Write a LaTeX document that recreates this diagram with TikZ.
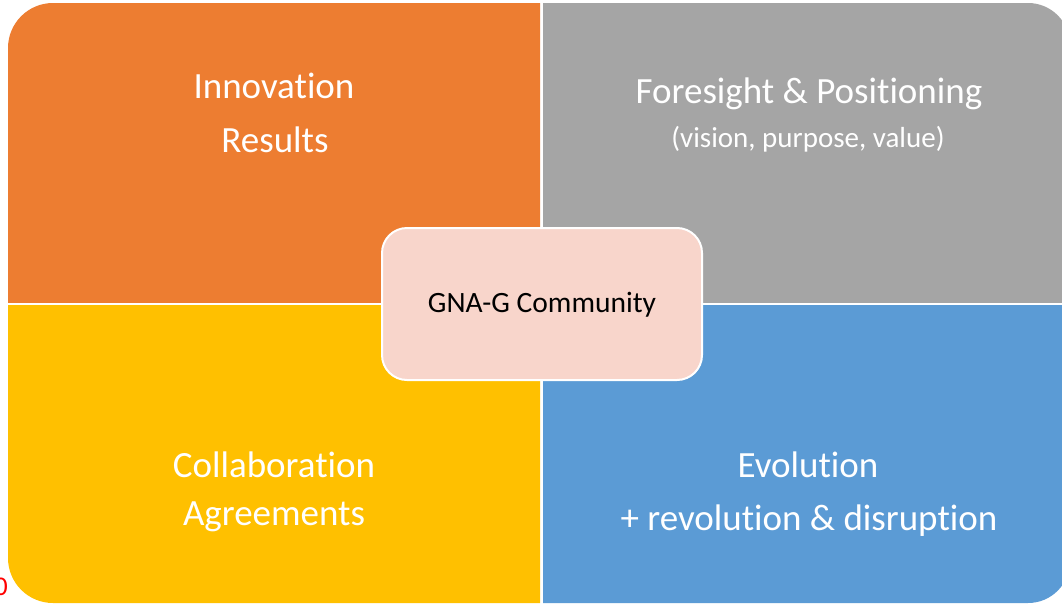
\documentclass[tikz,border=0pt]{standalone}
\usepackage{fontspec}
\setmainfont[Ligatures=NoCommon]{Carlito}
\definecolor{qorange}{HTML}{ED7D31}
\definecolor{qgray}{HTML}{A5A5A5}
\definecolor{qyellow}{HTML}{FFC000}
\definecolor{qblue}{HTML}{5B9BD5}
\definecolor{qpink}{HTML}{F8D5CB}
\begin{document}
\begin{tikzpicture}[x=1pt,y=-1pt,
  head/.style={text=white,font=\fontsize{37}{40}\selectfont,anchor=base,inner sep=0pt},
  sub/.style={text=white,font=\fontsize{29}{32}\selectfont,anchor=base,inner sep=0pt}]
\useasboundingbox (0,0) rectangle (1062,605);
\clip (0,0) rectangle (1062,605);
\fill[white] (0,0) rectangle (1062,605);
% quadrants
\begin{scope}
  \clip (8,3) rectangle (540,302.5);
  \fill[qorange,rounded corners=45pt] (8,3) rectangle (700,420);
\end{scope}
\begin{scope}
  \clip (543,3) rectangle (1070,302.5);
  \fill[qgray,rounded corners=42pt] (300,3) rectangle (1070,420);
\end{scope}
\begin{scope}
  \clip (8,305) rectangle (540,603);
  \fill[qyellow,rounded corners=45pt] (8,150) rectangle (700,603);
\end{scope}
\begin{scope}
  \clip (543,305.5) rectangle (1070,603);
  \fill[qblue,rounded corners=42pt] (300,150) rectangle (1070,603);
\end{scope}
% texts
\node[head] (inn) at (274,98) {Innovation};
\node[head] (res) at (275,152) {Results};
\node[head] (fore) at (809,103) {Foresight \& Positioning};
\node[sub] (vis) at (808,147) {(vision, purpose, value)};
\node[head] (col) at (274,477) {Collaboration};
\node[head] (agr) at (274,525) {Agreements};
\node[head] (evo) at (808,477) {Evolution};
\node[head] (rev) at (809,530) {+ revolution \& disruption};
% center
\draw[white,line width=2pt,fill=qpink,rounded corners=25pt] (382,228) rectangle (702,380);
\node[anchor=base,inner sep=0pt,font=\fontsize{29.5}{32}\selectfont] (gna) at (542,312) {GNA-G Community};
% stray red digit
\node[anchor=base east,inner sep=0pt,text=red,font=\fontsize{27}{30}\selectfont] (zero) at (8,595) {0};
\end{tikzpicture}
\end{document}
